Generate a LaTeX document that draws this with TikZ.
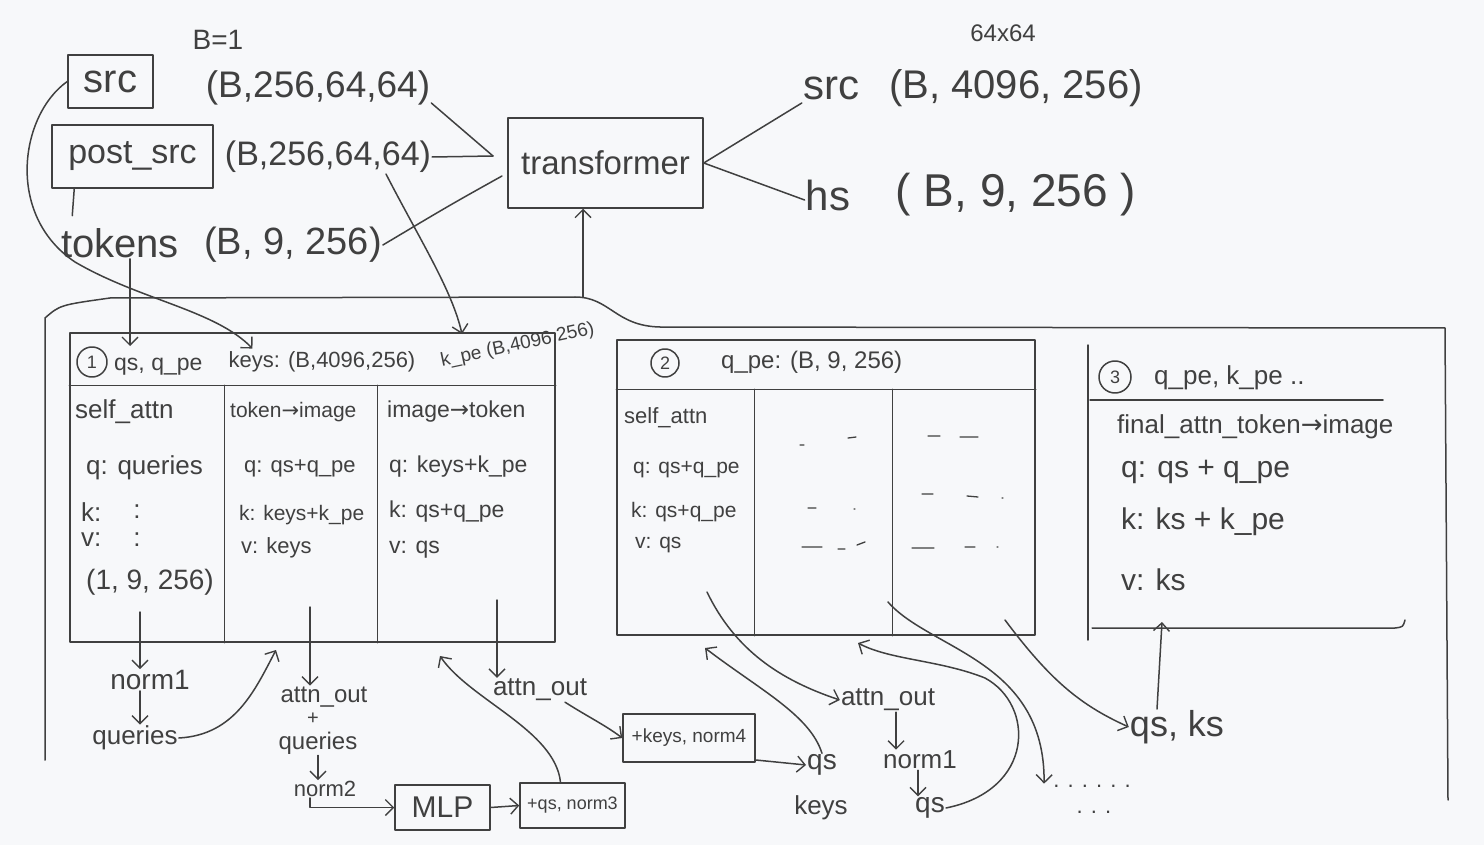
\documentclass[tikz,border=0pt]{standalone}
\usepackage{fontspec}
\setmainfont{Liberation Sans}
\newfontfamily\dv{DejaVu Sans}
\usetikzlibrary{arrows.meta}
\definecolor{bg}{HTML}{F7F8FA}
\definecolor{ink}{HTML}{404040}
\begin{document}
\begin{tikzpicture}[x=1pt,y=-1pt,
 ln/.style={draw=ink,line width=1.5pt,line cap=round,line join=round},
 arr/.style={ln,-{Straight Barb[length=8pt,width=16pt,line width=1.4pt]}},
 lbl/.style={text=ink,inner sep=1pt,font=\fontsize{#1}{#1}\selectfont},
 lbl/.default=24,
 cnum/.style={circle,ln,inner sep=0pt,minimum size=#1,text=ink,font=\fontsize{18}{18}\selectfont},
 cnum/.default=30pt,
 frame/.style={ln,rectangle,inner sep=0pt,text=ink},
 dsh/.style={ln,line width=1.3pt}]
\fill[bg] (0,0) rectangle (1484,845);
\useasboundingbox (0,0) rectangle (1484,845);

% ---------- top part ----------
\node[lbl=28] (b1) at (218,40) {B=1};
\node[frame,minimum width=85pt,minimum height=53pt,font=\fontsize{40}{40}\selectfont] (srcbox) at (110.5,81.5) {src};
\node[lbl=37] (shA) at (318,88) {(B,256,64,64)};
\node[frame,minimum width=161pt,minimum height=63pt,font=\fontsize{34}{34}\selectfont] (pbox) at (132.5,156.5) {post\_src};
\node[lbl=34] (shB) at (328,157) {(B,256,64,64)};
\node[lbl=40] (tok) at (120,243) {tokens};
\node[lbl=38] (shC) at (293,245) {(B, 9, 256)};
\node[frame,minimum width=195pt,minimum height=90pt,font=\fontsize{33}{33}\selectfont] (tf) at (605.5,163) {transformer};
\node[lbl=24] (hw) at (1003,33) {64x64};
\node[lbl=42] (srcR) at (831,88) {src};
\node[lbl=40] (shD) at (1016,88) {(B, 4096, 256)};
\node[lbl=42] (hs) at (828,195) {hs};
\node[lbl=46] (shE) at (1016,195) {( B, 9, 256 )};

\coordinate (tin) at (493,156);
\coordinate (tin2) at (502,176);
\draw[ln] ([yshift=-15pt]shA.east) -- (tin);
\draw[ln] (shB.east) -- (tin);
\draw[ln] (shC.east) .. controls (450,205) .. (tin2);
\draw[ln] (tf.east) -- ([yshift=-15pt]srcR.west);
\draw[ln] (tf.east) -- ([yshift=-5pt]hs.west);
\draw[ln] ([xshift=23pt]pbox.south west) -- ++(-2,27);

% ---------- outer frame ----------
\coordinate (ftop) at (583,297);
\draw[ln] (45,760) -- (45,318) .. controls (60,305) .. (110,298) -- (575,297)
  .. controls (610,297) and (615,326) .. (660,327) -- (1445,328) -- (1448,800);
\draw[arr] (ftop) -- (tf.south -| ftop);

% ---------- box 1 ----------
\node[frame,minimum width=485pt,minimum height=309pt] (box1) at (312.5,487.5) {};
\draw[ln] ([yshift=-53pt]box1.north west) -- ([yshift=-53pt]box1.north east);
\draw[ln] ([xshift=155pt,yshift=-53pt]box1.north west) -- ([xshift=155pt]box1.south west);
\draw[ln] ([xshift=308pt,yshift=-53pt]box1.north west) -- ([xshift=308pt]box1.south west);
\node[cnum] (n1) at (92,362) {1};
\node[lbl=23,anchor=west] (qsq) at (113,367) {qs, q\_pe};
\node[lbl=22] (keys) at (322,362) {keys: (B,4096,256)};
\node[lbl=19,anchor=west,rotate=12] (kpe) at (440,362) {k\_pe (B,4096,256)};
\coordinate (kpetip) at (462,334);
\coordinate (tkt) at (130,346);

\node[lbl=26,anchor=west] (c1a) at (74,412) {self\_attn};
\node[lbl=26,anchor=west] (c1b) at (85,468) {q: queries};
\node[lbl=26,anchor=west] (c1c) at (80,512) {k:};
\node[lbl=26] (c1d) at (137,512) {:};
\node[lbl=26,anchor=west] (c1e) at (80,540) {v:};
\node[lbl=26] (c1f) at (137,540) {:};
\node[lbl=28] (c1g) at (150,582) {(1, 9, 256)};

\node[lbl=21,anchor=west] (c2a) at (229,412) {token{\dv→}image};
\node[lbl=22,anchor=west] (c2b) at (243,468) {q: qs+q\_pe};
\node[lbl=21,anchor=west] (c2c) at (238,515) {k: keys+k\_pe};
\node[lbl=22,anchor=west] (c2d) at (240,548) {v: keys};

\node[lbl=23,anchor=west] (c3a) at (386,412) {image{\dv→}token};
\node[lbl=23,anchor=west] (c3b) at (388,467) {q: keys+k\_pe};
\node[lbl=23,anchor=west] (c3c) at (388,512) {k: qs+q\_pe};
\node[lbl=23,anchor=west] (c3d) at (388,550) {v: qs};

% ---------- box 2 ----------
\node[frame,minimum width=418pt,minimum height=295pt] (box2) at (826,487.5) {};
\draw[ln] ([yshift=-50pt]box2.north west) -- ([yshift=-50pt]box2.north east);
\draw[ln] ([xshift=138pt,yshift=-50pt]box2.north west) -- ([xshift=138pt]box2.south west);
\draw[ln] ([xshift=276pt,yshift=-50pt]box2.north west) -- ([xshift=276pt]box2.south west);
\node[cnum=28pt] (n2) at (665,363) {2};
\node[lbl=24,anchor=west] (qpe2) at (720,362) {q\_pe: (B, 9, 256)};
\node[lbl=22,anchor=west] (d1a) at (623,418) {self\_attn};
\node[lbl=21,anchor=west] (d1b) at (632,470) {q: qs+q\_pe};
\node[lbl=21,anchor=west] (d1c) at (630,512) {k: qs+q\_pe};
\node[lbl=21,anchor=west] (d1d) at (634,545) {v: qs};
\draw[dsh] (800,445)--(804,445) (848,438)--(856,437)
 (808,508)--(816,508) (854,509)--(855,509)
 (802,547)--(822,547) (838,549)--(845,549) (857,545)--(865,542)
 (928,436)--(940,436) (960,437)--(978,437)
 (922,494)--(933,494) (967,496)--(978,497) (1002,498)--(1003,498)
 (912,548)--(934,548) (965,547)--(975,547) (997,547)--(998,547);

% ---------- box 3 ----------
\draw[ln] (1088,345) -- (1088,640);
\draw[ln] (1090,400) -- (1383,400);
\draw[ln] (1092,628) -- (1395,628) .. controls (1403,627) .. (1405,620);
\node[cnum=32pt] (n3c) at (1115,377) {3};
\node[lbl=26,anchor=west] (hd3) at (1153,378) {q\_pe, k\_pe ..};
\node[lbl=26,anchor=west] (e1) at (1116,427) {final\_attn\_token{\dv→}image};
\node[lbl=30,anchor=west] (e2) at (1120,472) {q: qs + q\_pe};
\node[lbl=30,anchor=west] (e3) at (1120,522) {k: ks + k\_pe};
\node[lbl=30,anchor=west] (e4) at (1120,580) {v: ks};
\coordinate (t6) at (1162,622);

% ---------- below ----------
\node[lbl=28] (nm1) at (150,680) {norm1};
\node[lbl=26] (qrs) at (135,738) {queries};
\node[lbl=24] (ao1) at (324,697) {attn\_out};
\node[lbl=20] (pl) at (313,719) {+};
\node[lbl=24] (qrs2) at (318,743) {queries};
\node[lbl=22] (nm2) at (325,789) {norm2};
\node[frame,minimum width=95pt,minimum height=45pt,font=\fontsize{30}{30}\selectfont] (mlp) at (442.5,807.5) {MLP};
\node[frame,minimum width=105pt,minimum height=45pt,font=\fontsize{18}{18}\selectfont] (n3) at (572.5,805.5) {+qs, norm3};
\node[lbl=26] (ao2) at (540,690) {attn\_out};
\node[frame,minimum width=132pt,minimum height=48pt,font=\fontsize{19}{19}\selectfont] (n4) at (689,738) {+keys, norm4};
\node[lbl=28] (qsA) at (822,765) {qs};
\node[lbl=26] (keysA) at (821,808) {keys};
\node[lbl=26] (ao3) at (888,700) {attn\_out};
\node[lbl=26] (nm1b) at (920,760) {norm1};
\node[lbl=28] (qsB) at (930,808) {qs};
\node[lbl=22] (dots) at (1092,786) {. . . . . .};
\node[lbl=22] (dots2) at (1094,812) {. . .};
\node[lbl=36] (qsks) at (1177,727) {qs, ks};

\coordinate (s1) at (140,612);
\coordinate (s2) at (310,607);
\coordinate (s3) at (497,600);
\coordinate (s4) at (707,592);
\coordinate (s5) at (888,602);
\coordinate (s6) at (1005,620);
\coordinate (t1) at (276,650);
\coordinate (t3) at (440,656);
\coordinate (t4) at (705,648);
\coordinate (t5) at (858,643);

% ---------- connectors ----------
\draw[arr] (srcbox.west) .. controls (20,115) and (5,215) .. (75,262)
  .. controls (140,300) and (215,310) .. ([xshift=25pt,yshift=2pt]keys.north west);
\draw[arr] ([xshift=10pt]tok.south) -- (tkt);
\draw[arr] ([xshift=58pt]shB.south) .. controls (420,240) and (452,290) .. (kpetip);

\draw[arr] (s1) -- (s1 |- nm1.north);
\draw[arr] (nm1.south -| s1) -- (qrs.north -| s1);
\draw[arr] (qrs.east) .. controls (235,735) and (255,690) .. (t1);
\draw[arr] (s2) -- (s2 |- ao1.north);
\draw[arr] (qrs2.south) -- (qrs2.south |- nm2.north);
\draw[arr] ([xshift=-15pt]nm2.south) |- (mlp.west);
\draw[arr] (mlp.east) -- (n3.west);
\draw[arr] ([xshift=-12pt]n3.north) .. controls (555,730) and (470,700) .. (t3);
\draw[arr] (s3) -- (s3 |- ao2.north);
\draw[arr] ([xshift=25pt]ao2.south) .. controls (590,718) and (605,725) .. (n4.west);
\draw[arr] ([yshift=-22pt]n4.east) -- (qsA.west);
\draw[arr] (qsA.north) .. controls (810,715) and (760,690) .. (t4);
\draw[arr] (s4) .. controls (735,650) and (780,680) .. (ao3.west);
\draw[arr] ([xshift=8pt]ao3.south) -- ([xshift=-24pt]nm1b.north);
\draw[arr] ([xshift=-2pt]nm1b.south) -- ([xshift=-12pt]qsB.north);
\draw[arr] (qsB.east) .. controls (1035,790) and (1035,705) .. (985,678)
  .. controls (940,660) and (890,660) .. (t5);
\draw[arr] (s5) .. controls (930,650) and (1045,660) .. ([xshift=-8pt]dots.north west);
\draw[arr] (s6) .. controls (1050,680) and (1080,705) .. (qsks.west);
\draw[arr] ([xshift=-20pt]qsks.north) -- (t6);
\end{tikzpicture}
\end{document}
